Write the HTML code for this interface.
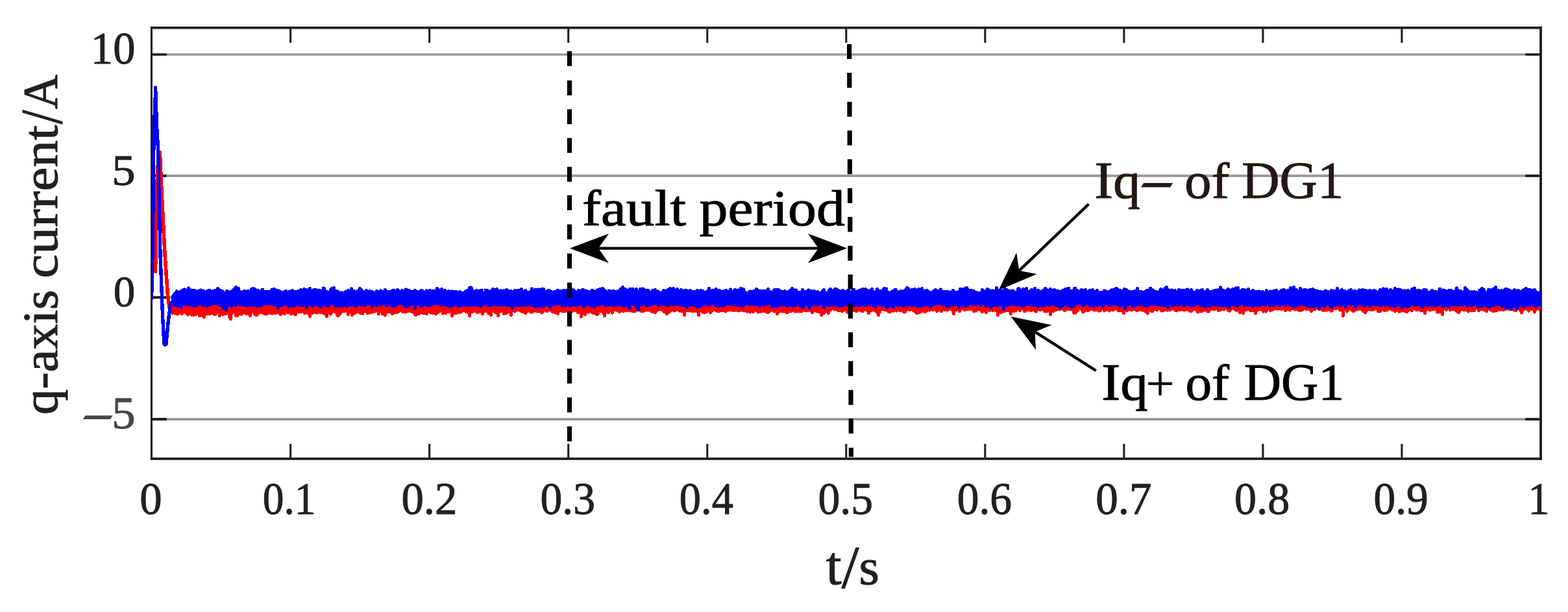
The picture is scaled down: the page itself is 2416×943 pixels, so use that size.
<!DOCTYPE html>
<html lang="en"><head><meta charset="utf-8"><title>q-axis current of DG1</title>
<style>html,body{margin:0;padding:0;background:#fff}body{width:2416px;height:943px}svg{display:block}text{font-family:"Liberation Serif","DejaVu Serif",serif;stroke-linejoin:round}</style></head><body>
<svg width="2416" height="943" viewBox="0 0 2416 943" role="img" aria-label="q-axis current of DG1 versus time, with fault period marked">
<rect width="2416" height="943" fill="#fff"/>
<g fill="#9b9b9b">
<rect x="233.6" y="82.25" width="2140.4" height="3.50"/>
<rect x="233.6" y="268.9" width="2140.4" height="4.00"/>
<rect x="233.6" y="456.3" width="2140.4" height="4.00"/>
<rect x="233.6" y="643.9" width="2140.4" height="4.00"/>
</g>
<g fill="#212121">
<rect x="233.6" y="82.25" width="23.2" height="3.50"/>
<rect x="2350.2" y="82.25" width="23.8" height="3.50"/>
<rect x="233.6" y="268.9" width="23.2" height="4.00"/>
<rect x="2350.2" y="268.9" width="23.8" height="4.00"/>
<rect x="233.6" y="456.3" width="23.2" height="4.00"/>
<rect x="2350.2" y="456.3" width="23.8" height="4.00"/>
<rect x="233.6" y="643.9" width="23.2" height="4.00"/>
<rect x="2350.2" y="643.9" width="23.8" height="4.00"/>
<rect x="446.09" y="42.8" width="3.1" height="23.2"/>
<rect x="446.09" y="683.9" width="3.1" height="23"/>
<rect x="660.13" y="42.8" width="3.1" height="23.2"/>
<rect x="660.13" y="683.9" width="3.1" height="23"/>
<rect x="874.17" y="42.8" width="3.1" height="23.2"/>
<rect x="874.17" y="683.9" width="3.1" height="23"/>
<rect x="1088.21" y="42.8" width="3.1" height="23.2"/>
<rect x="1088.21" y="683.9" width="3.1" height="23"/>
<rect x="1302.25" y="42.8" width="3.1" height="23.2"/>
<rect x="1302.25" y="683.9" width="3.1" height="23"/>
<rect x="1516.29" y="42.8" width="3.1" height="23.2"/>
<rect x="1516.29" y="683.9" width="3.1" height="23"/>
<rect x="1730.33" y="42.8" width="3.1" height="23.2"/>
<rect x="1730.33" y="683.9" width="3.1" height="23"/>
<rect x="1944.37" y="42.8" width="3.1" height="23.2"/>
<rect x="1944.37" y="683.9" width="3.1" height="23"/>
<rect x="2158.41" y="42.8" width="3.1" height="23.2"/>
<rect x="2158.41" y="683.9" width="3.1" height="23"/>
</g>
<g fill="#212121"><rect x="231.9" y="40.9" width="2144.1" height="3.8"/><rect x="231.9" y="705.0" width="2144.1" height="3.8"/><rect x="231.9" y="40.9" width="3.1" height="667.9"/><rect x="2372.1" y="40.9" width="3.9" height="667.9"/></g>
<clipPath id="pc"><rect x="233.3" y="42.8" width="2140.8999999999996" height="664.1"/></clipPath>
<g clip-path="url(#pc)" shape-rendering="crispEdges">
<path d="M264 462H2375V477H2374V478H2372V479H2371V478H2369V479H2367V482H2366V483H2365V484H2364V483H2363V482H2362V479H2359V478H2358V480H2357V481H2356V482H2355V481H2354V480H2353V479H2352V478H2349V479H2348V480H2347V483H2346V484H2345V485H2344V484H2343V483H2342V481H2341V479H2340V478H2338V480H2337V481H2334V480H2331V479H2325V478H2323V479H2322V478H2320V479H2318V480H2315V479H2312V480H2311V479H2309V480H2308V481H2304V482H2303V481H2302V482H2299V481H2298V480H2295V479H2294V478H2293V481H2292V482H2289V481H2288V480H2285V479H2281V480H2280V481H2277V480H2276V477H2274V480H2273V481H2266V480H2265V481H2264V482H2263V483H2262V482H2261V481H2260V480H2254V479H2251V481H2250V483H2249V484H2246V483H2245V482H2243V481H2242V480H2241V479H2236V480H2233V479H2232V477H2231V479H2230V480H2227V479H2226V478H2225V486H2224V487H2221V486H2220V483H2216V484H2215V483H2213V482H2212V478H2211V479H2206V480H2201V479H2200V478H2199V480H2198V484H2197V485H2194V484H2193V481H2188V480H2186V479H2185V480H2181V479H2180V478H2178V480H2177V481H2174V480H2173V479H2172V480H2171V481H2170V482H2169V483H2166V482H2165V481H2164V482H2163V481H2159V482H2157V483H2156V482H2154V481H2153V480H2152V481H2151V482H2148V481H2147V480H2144V479H2143V478H2140V479H2139V480H2135V481H2132V480H2130V479H2129V481H2128V482H2122V481H2121V478H2119V479H2115V480H2112V479H2108V480H2107V481H2106V483H2105V484H2102V483H2101V482H2099V481H2098V479H2096V478H2095V479H2094V478H2093V479H2092V480H2091V479H2090V480H2088V481H2087V482H2084V481H2083V480H2081V479H2080V478H2079V479H2078V481H2077V482H2074V481H2073V479H2072V488H2071V489H2068V488H2067V480H2063V479H2062V477H2060V478H2057V477H2056V478H2055V480H2054V481H2051V482H2050V481H2049V480H2048V479H2047V480H2044V481H2043V480H2041V481H2038V480H2036V479H2035V478H2034V479H2031V478H2030V477H2028V478H2027V479H2023V481H2022V482H2019V481H2018V479H2016V478H2015V479H2012V478H2009V479H2007V480H2006V481H2005V480H2004V481H2001V480H1999V479H1996V480H1995V479H1994V478H1990V479H1989V480H1986V479H1983V480H1982V481H1979V480H1978V478H1976V479H1973V478H1970V479H1969V478H1963V479H1961V480H1959V481H1956V480H1955V478H1954V480H1953V481H1952V482H1951V483H1950V482H1949V481H1948V482H1947V483H1946V482H1945V481H1944V479H1939V480H1938V481H1937V484H1936V485H1933V484H1932V481H1925V480H1924V479H1922V480H1918V484H1917V485H1914V484H1913V483H1912V484H1909V483H1908V480H1907V481H1904V480H1903V479H1901V478H1900V477H1899V478H1898V479H1897V481H1895V482H1894V481H1892V480H1890V477H1889V478H1887V479H1884V478H1883V479H1882V480H1879V481H1876V480H1875V478H1873V479H1868V478H1867V479H1865V481H1864V482H1862V483H1861V482H1859V480H1856V481H1855V480H1854V481H1853V482H1847V483H1846V484H1845V483H1844V482H1843V479H1842V480H1841V479H1840V478H1839V479H1838V481H1837V482H1834V481H1833V482H1832V481H1831V480H1830V479H1828V480H1822V479H1820V480H1817V479H1816V480H1815V481H1810V480H1809V479H1808V478H1806V479H1804V480H1799V481H1798V480H1796V479H1795V480H1794V481H1790V482H1789V481H1788V480H1787V478H1785V479H1784V480H1781V479H1778V481H1777V482H1773V481H1772V480H1771V484H1770V485H1769V486H1768V485H1767V484H1766V483H1764V482H1763V481H1762V480H1761V481H1760V480H1757V479H1756V480H1753V481H1750V480H1749V479H1746V480H1741V479H1739V480H1738V481H1735V480H1734V484H1733V485H1730V484H1729V481H1722V480H1721V479H1720V478H1718V479H1716V480H1713V479H1712V480H1711V481H1710V482H1709V481H1708V480H1703V481H1700V480H1699V478H1698V480H1697V481H1694V482H1693V481H1692V480H1687V481H1686V480H1685V479H1682V478H1681V479H1679V480H1678V481H1675V480H1673V481H1672V482H1670V483H1669V484H1668V483H1667V482H1666V479H1665V478H1663V480H1662V481H1660V483H1659V484H1658V485H1657V484H1655V485H1654V484H1653V483H1652V480H1651V479H1647V478H1646V479H1645V478H1644V479H1643V480H1642V481H1639V480H1638V479H1637V478H1634V479H1628V480H1626V481H1624V482H1621V486H1620V487H1617V486H1616V481H1615V482H1608V481H1607V479H1605V480H1601V479H1599V481H1598V482H1597V483H1596V482H1594V481H1593V480H1590V481H1587V480H1584V481H1583V480H1581V481H1580V482H1577V481H1576V478H1574V480H1573V481H1570V480H1569V478H1568V480H1567V481H1564V482H1561V481H1560V485H1559V486H1556V485H1555V481H1548V482H1545V483H1544V484H1541V483H1540V487H1539V488H1536V487H1535V481H1533V480H1531V481H1528V480H1526V481H1523V480H1522V483H1521V484H1518V483H1517V481H1516V482H1515V483H1512V482H1511V480H1510V479H1509V480H1508V479H1506V481H1504V482H1503V481H1502V482H1499V481H1498V478H1497V479H1494V478H1493V479H1492V478H1491V479H1488V480H1485V479H1484V478H1482V479H1481V481H1480V482H1477V481H1476V479H1475V480H1474V481H1473V480H1472V485H1471V486H1468V485H1467V482H1466V479H1465V478H1464V479H1461V480H1460V481H1459V480H1458V479H1457V480H1454V479H1453V481H1452V482H1449V481H1448V480H1446V481H1445V482H1442V481H1441V479H1439V480H1436V479H1434V480H1433V481H1432V480H1430V481H1428V482H1427V483H1424V482H1422V481H1421V482H1419V483H1418V484H1414V485H1411V484H1410V483H1409V482H1408V481H1406V480H1405V479H1403V480H1400V479H1398V480H1397V482H1396V483H1391V482H1390V480H1389V481H1385V480H1383V481H1382V482H1381V481H1380V480H1379V481H1378V482H1377V481H1374V482H1373V483H1372V482H1371V483H1368V482H1367V481H1365V480H1364V479H1363V480H1362V479H1358V482H1357V483H1356V487H1355V488H1352V487H1351V484H1350V482H1348V481H1347V480H1344V481H1341V484H1340V485H1337V484H1336V481H1335V480H1334V479H1332V481H1331V482H1328V481H1325V480H1322V481H1321V482H1318V481H1316V480H1315V481H1314V482H1309V481H1308V482H1307V483H1306V484H1305V483H1304V482H1303V480H1300V481H1299V482H1296V481H1290V480H1289V479H1284V478H1282V479H1281V480H1279V484H1278V485H1275V484H1274V482H1273V483H1272V484H1271V485H1268V487H1267V488H1264V487H1263V483H1261V482H1257V481H1254V483H1253V484H1250V483H1249V481H1248V480H1246V481H1239V480H1238V481H1237V482H1223V481H1220V482H1216V483H1215V484H1211V483H1209V482H1207V483H1206V482H1204V481H1203V482H1201V483H1200V485H1199V486H1196V485H1195V482H1191V481H1190V480H1189V481H1187V482H1186V483H1184V484H1181V483H1180V482H1177V481H1176V482H1172V483H1171V482H1170V483H1169V484H1168V483H1167V482H1166V481H1164V480H1163V482H1162V483H1159V482H1157V483H1156V484H1155V483H1154V482H1152V483H1151V482H1149V481H1143V480H1141V481H1135V480H1133V481H1130V480H1129V481H1128V480H1121V481H1120V482H1116V481H1109V482H1105V481H1102V480H1101V479H1100V480H1099V481H1097V483H1096V484H1093V483H1092V481H1091V482H1090V483H1087V484H1084V483H1083V484H1082V483H1081V482H1080V481H1079V487H1078V488H1075V487H1074V482H1071V481H1069V482H1066V481H1065V482H1064V481H1057V487H1056V488H1053V487H1052V482H1049V481H1048V482H1047V481H1045V480H1044V479H1043V480H1041V481H1039V482H1038V481H1037V480H1035V481H1034V482H1032V483H1031V484H1030V485H1029V486H1026V485H1025V483H1022V482H1021V481H1020V480H1019V479H1015V480H1013V481H1012V483H1011V484H1008V483H1004V482H1002V481H1001V480H999V481H998V480H995V481H992V482H987V481H986V480H985V479H982V480H981V481H980V482H974V481H972V482H971V481H969V480H968V481H962V482H959V481H957V482H956V483H953V482H952V481H950V480H946V483H945V484H944V485H943V484H941V481H940V483H939V484H936V483H934V488H933V489H930V488H929V485H928V483H927V482H925V481H924V485H923V486H921V487H918V486H917V485H914V484H913V485H912V484H911V483H910V482H909V483H907V484H906V483H904V486H903V487H900V486H899V485H898V489H897V490H896V491H895V490H893V483H892V484H889V483H888V481H886V480H885V481H883V482H880V485H879V486H876V485H875V482H874V481H873V482H872V481H871V482H865V481H862V485H861V486H858V485H857V484H854V483H850V482H849V480H848V481H847V480H845V481H844V482H841V481H840V480H839V482H838V483H836V484H835V485H834V484H833V483H832V482H825V481H823V482H822V483H820V484H819V483H816V482H815V481H814V482H812V484H811V485H808V484H807V483H804V482H802V481H800V480H796V481H795V482H792V481H790V487H789V488H786V487H785V483H782V484H781V485H778V486H775V485H774V481H773V482H770V488H769V489H766V488H765V484H762V483H761V482H760V481H759V487H758V488H755V487H754V485H753V486H752V485H751V484H750V482H749V481H748V482H746V485H745V486H742V485H741V482H740V483H737V484H734V483H733V482H732V481H731V482H729V483H726V488H725V489H724V490H723V489H722V488H721V484H720V483H717V482H716V481H713V482H712V483H709V484H706V483H705V484H704V485H699V488H698V489H695V488H694V482H693V483H689V484H688V485H685V484H684V485H683V486H682V485H681V484H680V481H679V482H677V483H676V484H674V485H673V486H672V487H671V486H670V485H666V484H664V485H663V484H662V483H661V482H660V485H659V486H656V485H651V484H648V485H647V486H643V487H642V488H641V487H640V488H639V487H638V486H637V484H636V483H634V482H631V481H630V482H626V483H625V484H624V483H623V482H622V483H619V482H618V481H616V482H614V483H613V484H610V483H609V484H607V485H606V486H603V485H602V483H596V487H595V488H592V487H591V486H588V485H587V482H586V485H585V486H582V485H581V481H580V482H577V483H573V484H569V485H565V484H564V482H561V485H559V486H558V485H554V484H553V483H549V484H548V485H545V487H544V488H541V487H540V483H539V486H538V487H535V486H534V482H533V481H532V482H527V484H526V485H525V486H524V487H523V488H522V489H519V488H518V487H517V483H515V482H513V483H512V485H511V486H510V487H509V486H507V484H506V489H505V490H502V489H501V486H499V485H497V484H496V483H495V484H492V483H491V484H485V483H484V484H483V485H480V489H479V490H476V489H475V485H473V484H471V485H468V484H467V482H465V483H458V486H457V487H453V486H452V485H450V486H447V485H446V483H445V484H442V483H441V485H440V486H437V485H436V484H435V486H434V487H431V486H430V485H429V484H425V485H422V484H421V485H420V486H419V485H415V484H414V485H413V486H406V485H405V484H401V483H400V484H399V486H398V487H396V488H393V487H392V486H391V485H390V483H388V488H387V489H384V488H383V486H382V485H381V486H378V485H377V484H375V485H374V486H373V487H372V486H368V488H367V489H363V488H361V483H360V484H359V485H358V493H357V494H354V493H353V491H352V490H351V485H349V486H345V487H342V486H341V488H340V489H337V488H336V483H335V485H334V486H332V487H329V486H328V485H325V486H317V490H316V491H313V490H312V489H311V488H309V489H306V488H305V485H304V486H303V487H300V488H297V487H296V488H295V487H293V485H292V486H291V487H290V488H289V487H288V486H287V485H286V484H285V483H283V485H282V486H279V485H278V484H277V485H276V486H271V485H270V486H269V485H268V484H267V485H264Z" fill="#ff0000"/>
<polyline points="239.5,418.5 240,392 241.5,298 243,258 245.3,234.5 246.3,234.5 249.2,298 254,392 258.5,455 261,474 266,480" fill="none" stroke="#ff0000" stroke-width="5.6" stroke-linejoin="round" stroke-linecap="round"/>
<path d="M264 455H265V454H266V452H267V451H268V450H269V449H270V447H271V446H273V447H274V448H276V447H278V446H280V445H281V444H284V443H285V444H287V445H288V442H290V441H291V442H293V445H294V444H295V445H301V446H303V447H304V446H307V445H309V444H310V445H312V446H316V448H317V447H318V446H320V445H325V447H326V446H330V445H333V443H334V442H337V443H338V444H339V445H341V446H344V447H345V449H347V447H348V446H351V447H354V448H355V447H356V446H358V444H360V442H361V441H362V440H365V441H366V442H369V443H370V447H371V448H373V447H375V446H378V447H379V446H380V447H381V446H384V447H385V444H386V443H389V442H392V443H394V444H395V445H399V446H400V447H401V446H402V444H407V447H416V446H417V444H419V443H420V444H421V443H424V444H425V445H429V446H432V447H433V448H437V447H439V446H442V447H443V448H444V447H446V446H447V447H448V446H449V445H452V446H453V447H458V446H461V445H462V444H465V445H466V444H467V443H470V444H473V445H474V444H475V443H476V442H479V443H480V446H481V445H482V444H488V445H494V446H496V442H498V441H499V442H501V443H502V446H503V447H505V448H507V445H508V444H509V443H510V442H513V441H516V442H517V446H520V447H523V449H525V448H526V449H530V448H531V447H534V446H535V445H538V446H539V443H541V442H542V443H544V446H547V447H549V446H551V445H552V443H553V442H556V443H557V444H558V445H559V446H560V447H561V448H562V446H563V445H566V446H567V447H568V446H571V447H575V448H577V449H578V447H579V446H582V447H584V446H586V445H587V446H589V447H591V445H592V444H595V445H596V447H602V446H604V445H609V447H610V445H611V444H614V445H615V446H616V447H617V446H618V445H621V446H623V444H625V443H626V444H628V445H632V446H633V447H637V446H638V445H641V446H642V447H644V448H645V447H646V446H648V445H651V446H653V448H654V447H655V446H657V445H658V446H661V445H664V446H671V443H672V442H675V443H676V444H677V445H678V444H679V443H682V444H683V446H684V445H687V446H688V447H690V446H693V447H696V446H697V447H705V448H707V447H710V448H711V449H715V447H717V446H719V445H721V442H722V441H725V440H726V441H728V443H729V446H730V447H731V446H733V445H736V446H739V445H744V446H745V449H746V445H752V446H754V447H755V446H757V444H758V443H761V444H764V443H767V444H768V446H771V445H772V446H776V445H777V446H778V445H779V444H782V445H783V446H785V447H786V446H789V447H791V446H792V445H795V446H797V445H801V444H802V443H805V444H806V447H807V446H808V445H811V446H812V448H816V447H817V443H819V442H820V443H822V445H823V444H829V443H830V444H833V443H839V444H840V447H842V446H844V445H847V446H849V447H851V448H853V447H857V445H862V447H863V446H867V445H870V446H871V445H874V446H875V449H876V448H877V443H878V442H881V443H882V445H883V444H884V445H886V447H888V448H889V446H890V445H893V446H895V445H896V444H900V445H902V446H905V447H910V445H915V447H917V446H918V445H920V444H923V443H927V442H930V443H931V444H932V445H933V446H935V448H936V446H938V445H939V446H941V447H942V446H947V447H951V446H954V443H957V441H958V440H961V441H962V443H965V444H966V445H968V444H969V443H977V445H978V444H979V443H982V444H983V447H984V444H985V443H990V442H991V443H993V444H994V445H1000V446H1001V447H1002V448H1003V447H1004V445H1008V444H1011V445H1012V447H1013V446H1014V447H1016V449H1019V448H1020V446H1021V445H1024V446H1026V445H1028V444H1030V443H1031V442H1034V443H1036V442H1039V443H1040V445H1041V444H1042V443H1045V444H1046V446H1047V445H1048V444H1051V445H1052V446H1054V445H1059V446H1062V445H1065V446H1066V447H1072V446H1073V445H1076V446H1078V445H1081V446H1085V448H1087V447H1089V446H1090V443H1091V442H1094V443H1095V446H1096V445H1101V444H1102V443H1105V444H1106V446H1107V445H1110V446H1111V447H1113V446H1114V447H1115V446H1117V445H1120V446H1122V447H1123V444H1125V443H1126V444H1128V447H1129V446H1130V445H1131V444H1134V445H1136V444H1137V445H1139V443H1140V442H1143V443H1147V444H1148V447H1149V449H1153V447H1155V446H1156V447H1160V446H1163V444H1164V443H1167V444H1168V445H1169V446H1181V444H1182V443H1185V444H1186V447H1187V448H1188V447H1189V448H1190V446H1191V445H1192V444H1201V445H1202V446H1204V447H1208V446H1211V447H1212V448H1213V447H1215V446H1216V445H1218V443H1219V442H1222V443H1223V445H1224V444H1225V445H1226V444H1227V445H1229V448H1234V445H1235V444H1238V445H1239V447H1243V445H1245V444H1246V445H1248V446H1252V447H1253V446H1256V447H1257V448H1258V447H1261V448H1262V449H1265V447H1266V446H1267V445H1268V444H1271V445H1272V448H1273V449H1275V446H1276V445H1277V444H1278V443H1281V444H1282V446H1283V445H1284V444H1285V443H1290V444H1291V445H1293V446H1295V447H1296V446H1297V445H1300V446H1301V447H1304V446H1305V445H1307V444H1308V445H1310V448H1311V447H1312V446H1313V444H1318V447H1321V446H1323V445H1326V444H1328V443H1331V444H1332V443H1335V444H1336V445H1338V446H1340V445H1341V444H1342V443H1345V444H1346V447H1347V448H1348V447H1349V444H1350V443H1353V444H1354V446H1359V444H1360V443H1361V442H1364V443H1365V442H1366V443H1368V448H1370V449H1371V448H1373V447H1374V446H1377V444H1382V446H1383V447H1384V448H1385V447H1387V446H1390V447H1391V446H1393V445H1394V444H1395V442H1396V441H1399V442H1401V443H1402V445H1403V444H1408V443H1411V444H1412V445H1413V444H1414V443H1417V444H1418V443H1419V442H1422V443H1423V446H1425V445H1426V446H1427V445H1430V446H1431V447H1432V448H1435V449H1436V447H1437V446H1439V445H1440V444H1443V445H1444V446H1447V444H1449V443H1450V444H1452V447H1462V448H1464V447H1465V448H1466V446H1467V445H1470V446H1471V448H1476V447H1477V444H1478V443H1482V444H1483V443H1486V442H1488V441H1491V442H1492V444H1493V445H1498V446H1502V447H1503V448H1506V449H1511V445H1512V444H1515V445H1516V447H1517V446H1519V444H1520V443H1523V444H1524V445H1526V446H1529V445H1530V446H1533V442H1534V441H1537V442H1538V445H1539V446H1541V445H1544V446H1546V444H1547V443H1550V444H1553V445H1554V446H1560V445H1561V446H1563V448H1566V444H1567V443H1568V442H1571V443H1572V444H1573V445H1574V444H1575V443H1578V444H1579V443H1580V442H1583V443H1584V447H1586V446H1587V445H1588V444H1591V445H1592V443H1593V442H1596V443H1597V446H1598V445H1601V446H1603V447H1605V446H1606V445H1608V443H1609V442H1612V443H1613V444H1614V445H1616V444H1617V443H1620V444H1621V445H1623V444H1626V445H1627V446H1632V447H1635V446H1636V445H1639V444H1640V443H1644V442H1649V446H1653V443H1654V442H1659V445H1661V446H1663V447H1664V445H1665V444H1668V445H1671V444H1674V445H1675V447H1677V445H1682V444H1685V445H1686V447H1688V446H1689V445H1692V446H1693V449H1694V448H1699V446H1701V445H1702V446H1705V447H1706V448H1707V447H1710V445H1712V444H1713V445H1714V444H1717V443H1718V442H1722V443H1723V444H1724V445H1728V446H1730V444H1731V443H1734V444H1737V445H1738V446H1739V447H1743V448H1744V447H1747V446H1750V443H1751V442H1754V443H1755V447H1760V448H1763V447H1764V446H1766V445H1770V442H1775V444H1777V445H1778V446H1780V447H1783V448H1785V446H1786V444H1787V443H1790V444H1791V445H1792V444H1793V442H1795V441H1796V440H1799V441H1800V444H1801V445H1805V444H1806V445H1808V446H1809V445H1812V446H1813V448H1814V445H1815V444H1818V445H1827V444H1829V443H1830V444H1832V446H1833V445H1834V444H1837V445H1838V447H1839V448H1842V446H1843V445H1846V446H1849V445H1851V444H1854V445H1855V448H1856V447H1858V445H1859V444H1862V445H1863V447H1868V446H1871V445H1875V444H1876V445H1877V444H1878V441H1880V440H1881V441H1883V444H1884V445H1886V446H1889V445H1890V444H1891V443H1894V444H1895V445H1897V444H1898V443H1901V444H1902V442H1904V441H1905V442H1906V441H1909V442H1910V446H1912V445H1913V444H1918V445H1921V444H1922V443H1925V444H1926V447H1928V446H1929V445H1932V446H1933V447H1940V446H1941V447H1943V448H1944V447H1947V448H1948V449H1949V446H1950V445H1953V446H1954V448H1955V447H1957V446H1958V447H1961V446H1964V445H1969V448H1970V447H1972V446H1973V445H1976V444H1980V445H1981V446H1983V445H1986V442H1987V441H1990V442H1991V441H1992V440H1995V441H1996V444H1999V445H2000V447H2001V443H2002V442H2005V443H2006V445H2008V444H2013V445H2017V444H2021V443H2024V444H2025V445H2028V446H2032V447H2037V448H2039V447H2040V446H2042V445H2043V446H2045V447H2048V448H2049V446H2050V445H2053V446H2058V443H2059V442H2062V443H2063V446H2065V445H2066V444H2069V445H2070V446H2074V447H2075V448H2076V446H2078V445H2080V444H2083V445H2084V447H2085V446H2089V447H2092V445H2094V444H2095V445H2098V444H2101V445H2105V446H2109V445H2112V446H2116V445H2119V446H2121V447H2122V448H2123V447H2124V445H2125V444H2128V445H2129V443H2131V442H2132V443H2134V444H2135V443H2138V444H2139V446H2140V445H2141V444H2144V445H2145V446H2147V443H2148V442H2151V443H2152V444H2154V443H2155V444H2159V445H2161V446H2164V445H2165V446H2168V445H2171V446H2172V447H2173V444H2174V443H2177V442H2179V441H2180V442H2182V446H2183V445H2188V446H2192V444H2198V445H2200V448H2203V447H2204V446H2205V445H2208V446H2209V447H2214V448H2215V446H2216V443H2221V445H2223V444H2224V445H2227V446H2229V447H2230V446H2231V445H2237V446H2238V447H2241V445H2242V442H2244V441H2245V442H2247V445H2248V446H2252V447H2253V448H2254V447H2255V442H2256V441H2259V442H2260V444H2262V446H2264V447H2265V448H2266V447H2269V448H2270V447H2273V448H2276V449H2277V446H2278V445H2280V444H2281V443H2282V442H2285V443H2286V444H2288V445H2289V448H2291V445H2292V444H2297V445H2298V444H2299V443H2302V441H2303V440H2306V441H2307V445H2310V446H2312V445H2315V446H2316V445H2317V444H2318V443H2323V444H2325V445H2328V446H2329V447H2330V446H2331V445H2332V444H2335V445H2336V446H2338V445H2341V446H2342V447H2344V446H2345V445H2347V444H2348V443H2350V442H2353V443H2354V444H2359V445H2363V444H2366V445H2367V447H2368V448H2369V449H2371V448H2373V447H2374V448H2375V472H2371V473H2369V474H2366V473H2362V472H2361V471H2359V472H2357V473H2356V472H2355V473H2350V474H2349V475H2346V474H2345V472H2340V477H2339V478H2336V477H2335V473H2334V474H2331V477H2330V478H2327V477H2326V476H2322V477H2319V476H2318V473H2317V474H2316V475H2313V474H2312V471H2305V472H2304V473H2299V474H2297V475H2295V476H2294V475H2292V474H2290V473H2288V472H2286V474H2279V475H2276V474H2275V472H2274V470H2273V471H2272V472H2269V473H2266V472H2263V473H2262V474H2259V473H2258V471H2255V472H2251V471H2250V472H2245V473H2244V472H2238V473H2237V472H2234V473H2233V474H2230V473H2227V474H2225V475H2224V474H2223V475H2222V474H2220V470H2219V471H2216V472H2214V473H2211V474H2210V473H2207V472H2201V473H2196V472H2194V475H2192V476H2191V475H2189V473H2187V472H2186V471H2185V472H2178V471H2176V470H2175V472H2173V473H2172V474H2171V475H2168V474H2165V473H2164V474H2163V476H2161V477H2160V476H2158V472H2154V471H2153V472H2152V474H2147V473H2144V474H2141V473H2140V471H2138V472H2133V471H2132V472H2130V473H2125V471H2124V472H2118V471H2117V470H2115V472H2114V473H2112V474H2111V473H2108V472H2107V471H2105V473H2104V474H2101V473H2100V472H2098V471H2097V470H2094V471H2092V473H2091V475H2089V476H2088V475H2086V470H2085V471H2084V470H2083V471H2079V470H2077V471H2076V475H2074V476H2073V475H2071V471H2068V472H2067V473H2064V472H2062V471H2060V472H2058V473H2055V472H2054V475H2053V476H2050V475H2049V474H2048V473H2047V471H2044V472H2043V474H2041V475H2040V474H2038V472H2037V473H2035V477H2033V478H2032V477H2030V473H2028V474H2026V475H2023V474H2014V473H2011V472H2007V471H2001V472H1998V474H1997V475H1991V474H1990V472H1989V473H1988V472H1986V470H1985V471H1984V472H1979V471H1974V472H1973V473H1970V472H1969V470H1968V471H1963V472H1961V473H1955V472H1954V470H1952V471H1951V472H1948V471H1945V472H1944V471H1943V472H1942V473H1939V472H1938V473H1935V472H1933V473H1932V474H1929V473H1928V472H1927V473H1922V472H1921V471H1920V472H1919V473H1916V472H1915V470H1912V471H1910V472H1909V473H1908V474H1905V473H1903V472H1901V471H1900V472H1899V471H1898V472H1897V473H1896V475H1895V476H1892V475H1891V473H1890V474H1889V473H1887V472H1885V473H1883V474H1882V473H1880V472H1877V473H1876V472H1871V471H1867V474H1865V475H1864V474H1862V472H1861V473H1860V474H1858V475H1855V474H1854V473H1853V474H1852V473H1850V472H1848V471H1847V470H1844V471H1841V472H1838V473H1837V474H1834V473H1833V472H1830V471H1828V470H1827V472H1826V473H1823V472H1821V471H1818V472H1813V471H1811V472H1810V473H1805V470H1804V471H1802V475H1801V476H1798V475H1797V472H1795V473H1792V472H1789V473H1788V472H1786V471H1783V472H1778V471H1777V470H1774V471H1772V472H1770V473H1769V474H1766V473H1765V474H1764V473H1762V472H1761V471H1760V472H1755V471H1752V472H1751V473H1748V474H1746V475H1745V474H1743V471H1740V472H1736V477H1731V472H1728V474H1723V472H1722V471H1713V472H1712V473H1708V472H1706V470H1704V471H1702V473H1701V474H1698V473H1697V472H1692V473H1689V472H1688V473H1687V474H1684V473H1683V472H1680V473H1677V472H1676V470H1674V471H1671V472H1669V473H1668V472H1666V471H1663V470H1657V472H1656V474H1653V475H1648V473H1643V470H1642V471H1640V473H1638V474H1636V475H1635V476H1632V475H1631V473H1626V472H1625V471H1620V472H1618V473H1617V472H1614V471H1612V472H1611V473H1606V474H1605V473H1603V472H1602V474H1601V475H1598V474H1597V473H1595V472H1594V473H1591V472H1585V471H1580V473H1579V474H1576V473H1571V472H1567V473H1566V472H1564V471H1558V472H1553V473H1550V472H1549V478H1548V479H1545V478H1544V472H1538V473H1536V474H1535V473H1533V472H1532V473H1529V475H1528V476H1525V475H1524V472H1522V473H1521V474H1518V473H1517V471H1516V470H1513V472H1511V473H1510V472H1508V470H1506V471H1505V472H1502V471H1498V470H1497V471H1496V470H1494V471H1493V472H1491V473H1489V474H1486V473H1482V472H1481V471H1480V475H1479V476H1476V475H1475V472H1474V471H1471V472H1464V473H1463V474H1457V473H1456V472H1455V471H1454V472H1451V471H1449V470H1441V471H1440V472H1438V473H1437V472H1436V474H1435V475H1432V474H1431V472H1430V473H1429V472H1423V473H1422V474H1411V473H1410V472H1409V471H1408V473H1403V472H1402V471H1401V472H1400V473H1397V472H1395V473H1393V474H1390V473H1389V472H1386V473H1382V472H1380V471H1379V475H1377V476H1376V475H1374V473H1370V475H1369V476H1364V475H1363V472H1361V473H1358V472H1354V471H1353V470H1352V474H1351V475H1348V474H1347V473H1344V472H1343V471H1341V472H1340V471H1338V472H1333V473H1332V472H1330V471H1329V472H1326V473H1320V472H1319V471H1318V472H1317V473H1314V472H1313V473H1312V474H1309V473H1308V472H1303V471H1301V473H1299V474H1298V473H1295V474H1291V473H1290V472H1288V473H1287V472H1285V471H1284V472H1280V473H1277V472H1273V473H1272V475H1271V476H1268V475H1267V471H1266V470H1264V471H1263V472H1260V471H1259V472H1256V471H1254V472H1250V476H1249V477H1246V476H1245V473H1244V472H1242V471H1240V475H1239V476H1236V475H1235V474H1232V473H1231V471H1228V472H1227V473H1223V474H1220V473H1219V472H1217V471H1216V473H1215V474H1212V473H1210V472H1201V473H1199V474H1198V475H1195V474H1194V475H1193V474H1187V470H1184V471H1181V470H1180V471H1179V472H1176V471H1173V473H1172V474H1169V473H1168V471H1159V472H1158V471H1152V470H1149V472H1147V474H1145V475H1144V474H1142V472H1141V473H1138V472H1131V471H1122V470H1120V471H1119V472H1117V473H1115V474H1112V473H1109V474H1105V473H1101V471H1099V470H1097V471H1095V472H1090V471H1088V470H1087V471H1084V472H1082V473H1081V474H1077V475H1073V474H1072V473H1068V472H1061V475H1060V476H1057V475H1056V473H1051V472H1046V471H1038V472H1035V471H1034V470H1033V471H1032V472H1031V473H1028V472H1027V471H1026V472H1023V471H1017V472H1015V473H1014V472H1012V470H1006V471H1003V472H999V473H997V474H996V473H994V470H993V471H990V472H987V473H986V479H985V480H982V479H981V476H978V472H977V471H975V470H973V477H971V478H970V477H968V474H966V473H965V471H964V472H963V473H962V474H959V473H958V471H957V472H954V471H953V472H949V473H944V472H935V473H932V472H930V471H929V470H928V471H924V472H922V473H921V472H919V471H918V475H916V476H915V475H913V474H910V473H909V471H908V472H907V471H904V472H902V474H901V475H898V474H897V472H896V470H895V471H894V472H891V471H890V472H889V473H886V472H885V471H884V472H882V473H880V474H879V473H876V472H874V473H870V472H869V473H868V474H865V473H864V470H860V471H859V470H857V471H855V472H854V471H851V475H850V476H847V475H846V474H845V473H844V470H843V471H842V472H841V473H838V475H836V476H835V475H833V472H832V473H830V474H829V473H828V474H826V475H823V474H822V473H818V472H815V471H813V472H809V473H806V472H803V473H795V472H794V473H792V476H791V477H788V476H787V473H779V471H778V472H772V471H770V472H768V473H767V472H762V471H760V472H757V473H753V472H748V470H747V471H746V472H743V473H742V474H739V473H736V472H733V473H732V472H728V473H727V472H725V473H724V472H723V473H717V472H713V473H712V472H711V473H708V474H705V473H704V472H701V471H700V473H696V474H695V475H692V474H691V473H687V472H686V471H684V472H680V473H679V472H677V470H667V472H665V473H664V472H663V473H657V472H656V471H655V472H652V473H651V474H646V471H642V476H641V477H638V476H637V471H634V472H633V471H631V474H630V475H624V474H623V472H621V471H620V470H614V471H612V472H611V473H610V474H604V473H601V472H600V470H599V472H597V473H594V472H593V471H591V470H590V471H588V472H587V471H582V472H581V473H578V472H577V471H576V474H575V475H572V474H571V471H569V470H565V472H564V473H561V472H554V471H552V472H551V473H550V474H547V473H545V472H540V473H539V472H537V474H535V475H534V474H532V473H531V472H530V473H529V474H526V473H524V474H521V473H519V474H516V473H515V471H512V470H509V471H508V473H507V474H504V473H503V472H502V473H501V472H499V471H498V472H497V475H492V473H490V472H487V471H484V473H483V474H480V473H479V471H477V472H475V475H474V476H471V475H470V472H468V473H465V472H463V473H462V472H460V470H459V471H458V472H456V473H453V474H450V473H449V472H448V474H443V472H442V471H439V472H438V471H436V473H434V474H433V473H431V476H430V477H427V476H426V472H425V471H424V472H420V471H419V470H411V471H410V470H406V472H404V473H402V474H401V473H398V474H394V473H392V472H391V473H386V472H385V473H382V474H379V473H378V471H377V472H372V471H371V472H368V471H366V472H365V473H362V472H361V471H360V472H359V473H358V474H355V473H354V472H352V473H351V479H350V480H347V479H346V477H343V476H341V473H340V472H339V473H338V472H336V470H327V471H324V472H321V473H320V474H317V473H316V472H314V473H311V472H310V470H306V472H305V473H300V474H297V473H296V471H295V472H292V471H291V472H288V471H284V470H283V471H282V475H277V473H276V474H272V473H271V472H269V473H268V472H266V470H264Z" fill="#0000ff"/>
<polyline points="233.6,460 235.0,392 236.2,298 236.8,232 237.7,190 239.1,154 239.6,135 240.3,154 241.3,190 243.7,232 245,298 247,392 250.5,486 252.4,521 253.2,530.9 255.8,530.9 256.8,521 259.6,492 262.6,470 267,462" fill="none" stroke="#0000ff" stroke-width="5.4" stroke-linejoin="round" stroke-linecap="round"/>
</g>
<g fill="#000">
<rect x="873.9" y="78.8" width="7.2" height="23"/>
<rect x="873.9" y="123.9" width="7.2" height="23"/>
<rect x="873.9" y="168.3" width="7.2" height="23"/>
<rect x="873.9" y="212.6" width="7.2" height="23"/>
<rect x="873.9" y="257.1" width="7.2" height="23"/>
<rect x="873.9" y="301.0" width="7.2" height="23"/>
<rect x="873.9" y="345.7" width="7.2" height="23"/>
<rect x="873.9" y="390.6" width="7.2" height="23"/>
<rect x="873.9" y="435.4" width="7.2" height="23"/>
<rect x="873.9" y="480" width="7.2" height="23"/>
<rect x="873.9" y="523.6" width="7.2" height="23"/>
<rect x="873.9" y="568" width="7.2" height="23"/>
<rect x="873.9" y="612.4" width="7.2" height="23"/>
<rect x="873.9" y="657" width="7.2" height="23"/>
<rect x="1305.0" y="68" width="7.2" height="23"/>
<rect x="1305.2" y="112.3" width="7.2" height="23"/>
<rect x="1305.4" y="156.8" width="7.2" height="23"/>
<rect x="1305.6" y="201.1" width="7.2" height="23"/>
<rect x="1305.8" y="245.4" width="7.2" height="23"/>
<rect x="1306.0" y="290" width="7.2" height="23"/>
<rect x="1306.2" y="334.3" width="7.2" height="23"/>
<rect x="1306.4" y="378.7" width="7.2" height="23"/>
<rect x="1306.6" y="423" width="7.2" height="23"/>
<rect x="1306.8" y="467.8" width="7.2" height="23"/>
<rect x="1307.0" y="512" width="7.2" height="23"/>
<rect x="1307.2" y="556.4" width="7.2" height="23"/>
<rect x="1307.4" y="600.9" width="7.2" height="23"/>
<rect x="1307.6" y="645" width="7.2" height="23"/>
<rect x="1307.8" y="689.9" width="7.2" height="14"/>
</g>
<g>
<line x1="918.0" y1="382.6" x2="1265.0" y2="382.6" stroke="#000" stroke-width="4.4"/><polygon points="1305.0,382.6 1245.0,405.3 1261.0,382.6 1245.0,359.9" fill="#000"/><polygon points="878.0,382.6 938.0,359.9 922.0,382.6 938.0,405.3" fill="#000"/>
<line x1="1677.5" y1="314.5" x2="1567.4" y2="419.8" stroke="#000" stroke-width="4.4"/><polygon points="1538.5,447.4 1566.2,389.5 1570.3,417.0 1597.6,422.3" fill="#000"/>
<line x1="1688.7" y1="571.1" x2="1591.3" y2="509.2" stroke="#000" stroke-width="4.4"/><polygon points="1557.6,487.7 1620.4,500.8 1594.7,511.3 1596.0,539.1" fill="#000"/>
</g>
<g>
<text transform="translate(139.87,97.90) scale(0.9790,0.9830)" font-size="70" fill="#212121" stroke="#212121" stroke-width="1.0">10</text>
<text transform="translate(172.37,284.80) scale(1.0359,0.9686)" font-size="70" fill="#212121" stroke="#212121" stroke-width="1.0">5</text>
<text transform="translate(174.85,472.10) scale(0.9574,0.9596)" font-size="70" fill="#212121" stroke="#212121" stroke-width="1.0">0</text>
<text transform="translate(102.54,681.01) skewX(-31) scale(1.2923,1.6286)" font-size="70" fill="#464646">−</text>
<text transform="translate(172.37,660.00) scale(1.0359,0.9903)" font-size="70" fill="#464646" stroke="#464646" stroke-width="1.0">5</text>
<text transform="translate(215.29,791.50) scale(0.9836,1.0000)" font-size="70" fill="#212121" stroke="#212121" stroke-width="1.0">0</text>
<text transform="translate(404.70,791.50) scale(0.9350,1.0000)" font-size="70" fill="#212121" stroke="#212121" stroke-width="1.0">0.1</text>
<text transform="translate(618.39,791.50) scale(0.9841,1.0000)" font-size="70" fill="#212121" stroke="#212121" stroke-width="1.0">0.2</text>
<text transform="translate(832.53,791.50) scale(0.9663,1.0000)" font-size="70" fill="#212121" stroke="#212121" stroke-width="1.0">0.3</text>
<text transform="translate(1046.87,791.50) scale(0.9487,1.0000)" font-size="70" fill="#212121" stroke="#212121" stroke-width="1.0">0.4</text>
<text transform="translate(1260.43,791.50) scale(0.9663,1.0000)" font-size="70" fill="#212121" stroke="#212121" stroke-width="1.0">0.5</text>
<text transform="translate(1474.73,791.50) scale(0.9636,1.0000)" font-size="70" fill="#212121" stroke="#212121" stroke-width="1.0">0.6</text>
<text transform="translate(1688.18,791.50) scale(0.9875,1.0000)" font-size="70" fill="#212121" stroke="#212121" stroke-width="1.0">0.7</text>
<text transform="translate(1902.11,791.50) scale(0.9723,1.0000)" font-size="70" fill="#212121" stroke="#212121" stroke-width="1.0">0.8</text>
<text transform="translate(2116.43,791.50) scale(0.9639,1.0000)" font-size="70" fill="#212121" stroke="#212121" stroke-width="1.0">0.9</text>
<text transform="translate(2354.57,791.50) scale(0.9451,1.0053)" font-size="70" fill="#212121" stroke="#212121" stroke-width="1.0">1</text>
<text transform="translate(1272.74,900.00) scale(1.0245,1.0000)" font-size="78.5" fill="#212121" stroke="#212121" stroke-width="1.0"><tspan font-size="84">t</tspan><tspan font-size="94" dy="5.3">/</tspan><tspan dy="-5.3">s</tspan></text>
<text transform="translate(87.6,0) rotate(-90)" fill="#212121" stroke="#212121" stroke-width="1.0" xml:space="preserve"><tspan x="-639.13" dy="0.00" font-size="76" textLength="192.55" lengthAdjust="spacingAndGlyphs">q-axis</tspan> <tspan x="-428.74" dy="0.00" font-size="76" textLength="235.89" lengthAdjust="spacingAndGlyphs">current</tspan><tspan x="-191.16" dy="7.50" font-size="91.5" textLength="21.76" lengthAdjust="spacingAndGlyphs">/</tspan><tspan x="-168.14" dy="-7.50" font-size="77" textLength="53.24" lengthAdjust="spacingAndGlyphs">A</tspan></text>
<text transform="translate(896.93,347.40) scale(1.1273,1.0000)" font-size="77.5" fill="#000" stroke="#000" stroke-width="1.0">fault</text>
<text transform="translate(1077.45,347.40) scale(1.1344,1.0000)" font-size="77.5" fill="#000" stroke="#000" stroke-width="1.0">period</text>
<text transform="translate(1686.31,304.80) scale(1.0763,1.0000)" font-size="80" fill="#231815" stroke="#231815" stroke-width="1.0"><tspan font-size="80.5">I</tspan><tspan font-size="77.5">q</tspan></text>
<text transform="translate(1728.88,329.23) skewX(-31) scale(1.2081,1.6500)" font-size="80" fill="#231815">−</text>
<text transform="translate(1825.37,304.80) scale(1.0520,1.0000)" font-size="78.5" fill="#231815" stroke="#231815" stroke-width="1.0">of</text>
<text transform="translate(1913.24,304.80) scale(1.0033,1.0000)" font-size="80.5" fill="#231815" stroke="#231815" stroke-width="1.0">DG1</text>
<text transform="translate(1697.18,615.60) scale(1.0892,1.0000)" font-size="80" fill="#000" stroke="#000" stroke-width="1.0"><tspan font-size="80.5">I</tspan><tspan font-size="77.5">q</tspan></text>
<text transform="translate(1765.41,616.26) scale(0.9574,0.9325)" font-size="82" fill="#000" stroke="#000" stroke-width="0.4">+</text>
<text transform="translate(1826.41,615.60) scale(1.0362,1.0000)" font-size="78.5" fill="#000" stroke="#000" stroke-width="1.0">of</text>
<text transform="translate(1916.67,615.60) scale(0.9874,1.0000)" font-size="80.5" fill="#000" stroke="#000" stroke-width="1.0">DG1</text>
</g>
</svg></body></html>
